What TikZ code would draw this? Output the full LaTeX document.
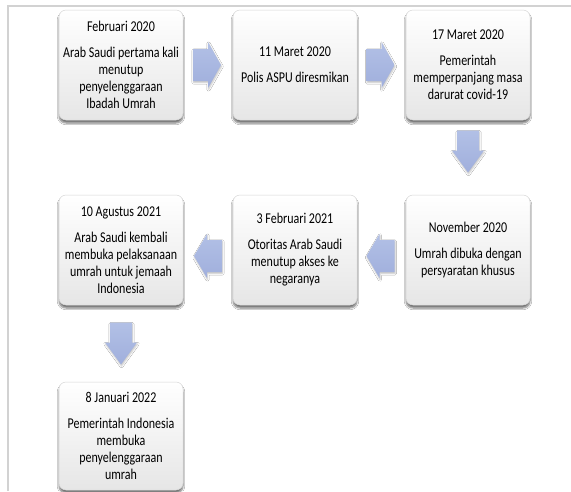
\documentclass[tikz,border=0pt]{standalone}
\usepackage{fontspec}
\newfontfamily\boxfont[FakeStretch=0.8]{Carlito}
\usetikzlibrary{calc,shadows.blur}
\definecolor{framegray}{RGB}{210,210,210}
\definecolor{boxedge}{RGB}{215,215,215}
\definecolor{boxbottom}{RGB}{230,230,230}
\definecolor{arrowblue}{RGB}{178,192,230}
\definecolor{arrowdark}{RGB}{160,175,220}
\tikzset{
  eventbox/.style={draw=boxedge, line width=0.5pt, rounded corners=7pt,
    shading=axis, top color=white, bottom color=boxbottom, shading angle=0,
    minimum width=124pt, minimum height=110pt, inner sep=2pt,
    align=center, font=\boxfont\fontsize{15}{17}\selectfont, text=black,
    blur shadow={shadow xshift=0pt, shadow yshift=-3pt, shadow blur steps=6, shadow opacity=55}},
  blockarrow/.style={top color=arrowblue, bottom color=arrowdark, draw=none,
    blur shadow={shadow xshift=0.5pt, shadow yshift=-1.5pt, shadow blur steps=4, shadow opacity=25}},
}
\newcommand{\gap}{\\[9pt]}
\begin{document}
\begin{tikzpicture}[x=1pt,y=-1pt]
\useasboundingbox (0,0) rectangle (571,491);
\fill[white] (0,0) rectangle (571,491);
% frame
\draw[framegray, line width=1.5pt] (8,491) -- (8,6) -- (571,6);
% boxes
\node[eventbox] (b1) at (121,65) {Februari 2020\gap Arab Saudi pertama kali\\menutup\\penyelenggaraan\\Ibadah Umrah};
\node[eventbox] (b2) at (295,65) {11 Maret 2020\gap Polis ASPU diresmikan};
\node[eventbox] (b3) at (468,65) {17 Maret 2020\gap Pemerintah\\memperpanjang masa\\darurat covid-19};
\node[eventbox] (b6) at (468,250) {November 2020\gap Umrah dibuka dengan\\persyaratan khusus};
\node[eventbox] (b5) at (295,250) {3 Februari 2021\gap Otoritas Arab Saudi\\menutup akses ke\\negaranya};
\node[eventbox] (b4) at (121,250) {10 Agustus 2021\gap Arab Saudi kembali\\membuka pelaksanaan\\umrah untuk jemaah\\Indonesia};
\node[eventbox, minimum height=108pt] (b7) at (121,436) {8 Januari 2022\gap Pemerintah Indonesia\\membuka\\penyelenggaraan\\umrah};
% arrow positions
\coordinate (r1) at ($(b1.east)!0.5!(b2.west)+(-1,0)$);
\coordinate (r2) at ($(b2.east)!0.5!(b3.west)+(-1,0)$);
\coordinate (d1) at ($(b3.south)!0.5!(b6.north)+(0,-6)$);
\coordinate (l1) at ($(b6.west)!0.5!(b5.east)+(-1,6)$);
\coordinate (l2) at ($(b5.west)!0.5!(b4.east)+(0,6)$);
\coordinate (d2) at ($(b4.south)!0.5!(b7.north)+(0,0)$);
% right arrows
\foreach \c in {r1,r2}{
  \path[blockarrow, shift={(\c)}] (-14,-16) -- (1,-16) -- (1,-23) -- (14,0) -- (1,23) -- (1,16) -- (-14,16) -- cycle;
}
% left arrows
\foreach \c in {l1,l2}{
  \path[blockarrow, shift={(\c)}] (14,-16) -- (-1,-16) -- (-1,-22) -- (-14,0) -- (-1,22) -- (-1,16) -- (14,16) -- cycle;
}
% down arrows
\foreach \c in {d1,d2}{
  \path[blockarrow, shift={(\c)}] (-11,-21) -- (11,-21) -- (11,-1) -- (16,-1) -- (0,21) -- (-16,-1) -- (-11,-1) -- cycle;
}
\end{tikzpicture}
\end{document}
